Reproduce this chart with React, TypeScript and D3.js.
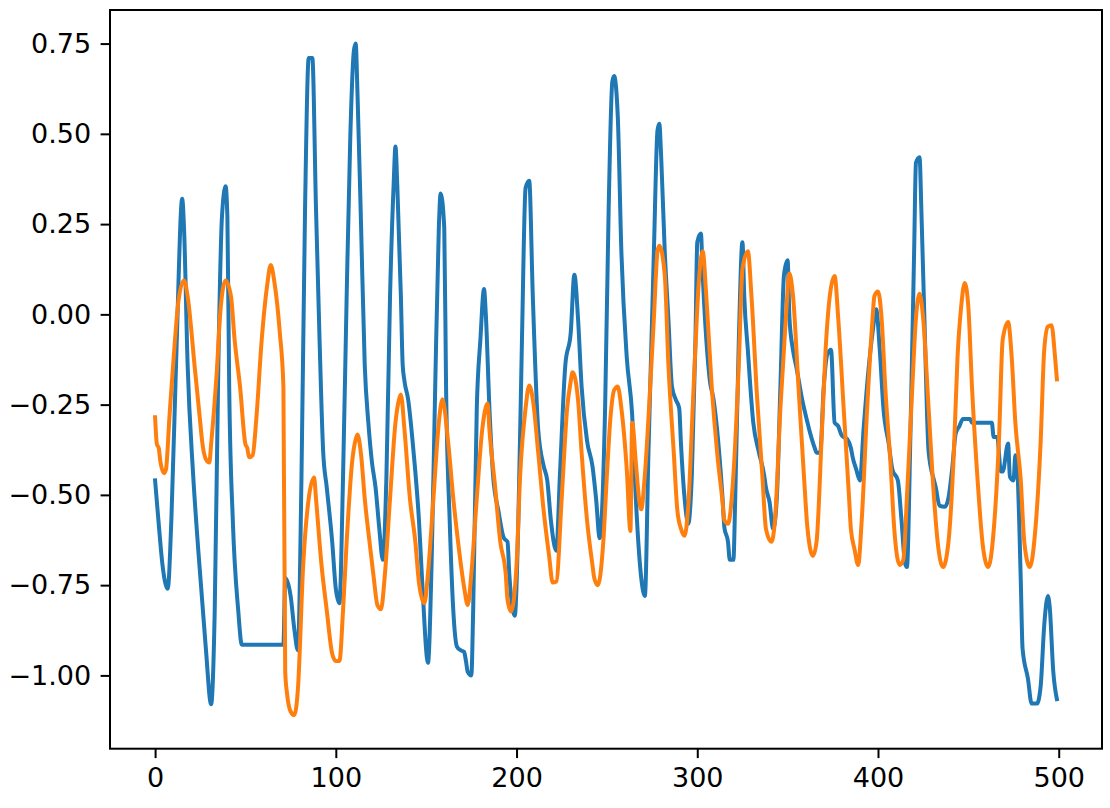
import React, { useEffect, useRef } from 'react';
import * as d3 from 'd3';

// sample index / value pairs (peaks, troughs, shoulders)
const blueIdx = [0, 2, 4, 7, 9, 12, 15, 16, 18, 21, 24, 28, 31, 33, 35, 37, 39, 40, 41, 43, 46, 48, 71, 72, 75, 77, 79, 81, 83, 85, 87, 89, 91, 93, 95, 98, 100, 102, 104, 106, 108, 110, 111, 112, 114, 116, 118, 120, 122, 124, 126, 128, 130, 132, 133, 134, 136, 137, 138, 140, 143, 146, 148, 151, 153, 155, 157, 158, 160, 161, 163, 165, 167, 169, 171, 172, 173, 175, 176, 178, 180, 182, 183, 185, 187, 190, 193, 195, 196, 198, 199, 201, 203, 205, 207, 209, 212, 215, 217, 219, 222, 224, 227, 230, 232, 234, 236, 239, 242, 244, 246, 249, 251, 253, 254, 256, 258, 261, 264, 266, 269, 271, 273, 276, 278, 279, 280, 282, 284, 286, 288, 290, 291, 293, 295, 297, 299, 300, 302, 303, 305, 307, 309, 311, 314, 315, 317, 318, 320, 321, 323, 325, 326, 328, 331, 334, 337, 338, 340, 342, 344, 346, 348, 350, 351, 353, 355, 358, 361, 362, 365, 366, 368, 370, 372, 374, 376, 378, 380, 383, 385, 386, 388, 390, 392, 395, 397, 399, 401, 403, 406, 408, 411, 413, 415, 416, 418, 420, 421, 423, 424, 426, 428, 431, 432, 434, 437, 439, 441, 443, 445, 447, 451, 452, 463, 464, 466, 468, 469, 472, 473, 475, 476, 477, 479, 480, 483, 485, 488, 490, 492, 494, 495, 497, 499]
const blueVal = [-0.46, -0.58, -0.69, -0.76, -0.57, -0.07, 0.32, 0.24, -0.14, -0.44, -0.66, -0.92, -1.08, -0.82, -0.14, 0.27, 0.355, 0.27, -0.2, -0.57, -0.82, -0.915, -0.915, -0.73, -0.78, -0.87, -0.93, -0.45, 0.3, 0.71, 0.71, 0.3, -0.07, -0.38, -0.48, -0.63, -0.76, -0.8, -0.45, 0.05, 0.49, 0.73, 0.75, 0.61, 0.24, -0.14, -0.3, -0.41, -0.48, -0.59, -0.68, -0.45, 0.05, 0.36, 0.465, 0.36, 0.05, -0.14, -0.185, -0.235, -0.38, -0.57, -0.76, -0.965, -0.69, -0.2, 0.24, 0.335, 0.24, -0.2, -0.57, -0.82, -0.92, -0.93, -0.935, -0.96, -0.99, -1.0, -0.82, -0.26, -0.07, 0.07, 0.0, -0.26, -0.445, -0.545, -0.62, -0.63, -0.72, -0.82, -0.835, -0.57, -0.07, 0.35, 0.37, 0.05, -0.32, -0.42, -0.46, -0.57, -0.655, -0.445, -0.14, -0.05, 0.11, -0.01, -0.2, -0.35, -0.42, -0.51, -0.62, -0.26, 0.3, 0.645, 0.66, 0.55, 0.175, -0.12, -0.28, -0.51, -0.73, -0.78, -0.38, 0.175, 0.51, 0.528, 0.44, 0.175, -0.01, -0.2, -0.235, -0.26, -0.36, -0.51, -0.58, -0.445, -0.07, 0.2, 0.224, 0.11, -0.07, -0.185, -0.235, -0.32, -0.51, -0.59, -0.63, -0.68, -0.68, -0.51, -0.07, 0.2, 0.05, -0.1, -0.3, -0.38, -0.445, -0.48, -0.52, -0.595, -0.51, -0.2, 0.11, 0.15, -0.01, -0.1, -0.15, -0.235, -0.3, -0.32, -0.37, -0.383, -0.383, -0.2, -0.11, -0.098, -0.3, -0.31, -0.336, -0.346, -0.37, -0.396, -0.43, -0.46, -0.32, -0.14, -0.05, 0.014, -0.1, -0.26, -0.36, -0.43, -0.46, -0.57, -0.69, -0.7, -0.32, 0.175, 0.42, 0.435, 0.29, -0.07, -0.38, -0.46, -0.48, -0.53, -0.533, -0.508, -0.43, -0.33, -0.31, -0.29, -0.29, -0.3, -0.3, -0.34, -0.34, -0.435, -0.435, -0.358, -0.45, -0.46, -0.39, -0.42, -0.735, -0.926, -1.01, -1.078, -1.078, -1.03, -0.86, -0.78, -0.81, -0.99, -1.066]

const orangeIdx = [0, 1, 2, 3, 5, 6, 8, 11, 13, 16, 18, 22, 25, 26, 28, 30, 31, 34, 36, 39, 42, 44, 47, 50, 51, 52, 54, 56, 59, 62, 64, 66, 69, 71, 72, 73, 75, 77, 79, 82, 85, 88, 89, 92, 95, 98, 100, 102, 104, 106, 109, 111, 112, 114, 116, 119, 121, 123, 125, 127, 130, 133, 135, 136, 138, 141, 144, 146, 149, 151, 154, 157, 159, 162, 165, 168, 171, 173, 175, 178, 181, 184, 185, 188, 191, 194, 195, 197, 200, 202, 205, 207, 209, 212, 215, 218, 220, 222, 225, 228, 230, 231, 234, 236, 239, 242, 243, 245, 248, 250, 252, 254, 256, 258, 261, 263, 264, 266, 268, 269, 271, 274, 276, 278, 279, 282, 284, 287, 289, 291, 293, 295, 298, 301, 303, 305, 308, 311, 314, 315, 317, 320, 323, 325, 328, 330, 333, 336, 338, 341, 343, 346, 349, 351, 353, 356, 359, 361, 364, 366, 369, 371, 374, 376, 378, 381, 384, 385, 387, 389, 391, 394, 397, 398, 400, 402, 404, 407, 409, 412, 414, 416, 419, 421, 423, 425, 428, 431, 433, 436, 439, 442, 444, 446, 448, 450, 452, 455, 458, 461, 464, 467, 469, 472, 474, 476, 479, 481, 484, 487, 490, 492, 494, 496, 498, 499]
const orangeVal = [-0.285, -0.36, -0.37, -0.41, -0.44, -0.43, -0.28, -0.07, 0.04, 0.094, 0.05, -0.15, -0.3, -0.35, -0.4, -0.41, -0.36, -0.17, 0.0, 0.094, 0.05, -0.07, -0.2, -0.36, -0.37, -0.396, -0.39, -0.29, -0.07, 0.08, 0.137, 0.09, -0.05, -0.2, -0.99, -1.05, -1.1, -1.11, -1.04, -0.69, -0.51, -0.452, -0.508, -0.69, -0.82, -0.94, -0.96, -0.96, -0.82, -0.63, -0.41, -0.346, -0.333, -0.39, -0.51, -0.645, -0.73, -0.805, -0.817, -0.73, -0.51, -0.3, -0.235, -0.222, -0.32, -0.51, -0.63, -0.743, -0.8, -0.718, -0.51, -0.3, -0.235, -0.346, -0.51, -0.645, -0.756, -0.805, -0.718, -0.51, -0.32, -0.247, -0.32, -0.47, -0.63, -0.718, -0.79, -0.823, -0.694, -0.445, -0.26, -0.197, -0.235, -0.383, -0.544, -0.668, -0.743, -0.74, -0.508, -0.26, -0.185, -0.16, -0.235, -0.383, -0.57, -0.694, -0.73, -0.75, -0.63, -0.445, -0.284, -0.21, -0.2, -0.26, -0.43, -0.6, -0.3, -0.41, -0.52, -0.54, -0.445, -0.197, -0.01, 0.175, 0.19, 0.11, -0.136, -0.383, -0.544, -0.594, -0.613, -0.53, -0.2, 0.1, 0.175, 0.05, -0.2, -0.383, -0.52, -0.57, -0.58, -0.445, -0.136, 0.125, 0.175, 0.05, -0.222, -0.445, -0.594, -0.63, -0.57, -0.26, -0.011, 0.113, 0.05, -0.2, -0.445, -0.594, -0.669, -0.63, -0.32, -0.1, 0.075, 0.106, -0.011, -0.26, -0.508, -0.594, -0.65, -0.694, -0.57, -0.26, -0.011, 0.05, 0.063, -0.011, -0.2, -0.42, -0.594, -0.694, -0.68, -0.508, -0.2, -0.011, 0.057, -0.011, -0.26, -0.508, -0.63, -0.7, -0.63, -0.38, -0.12, 0.02, 0.087, 0.02, -0.2, -0.45, -0.64, -0.7, -0.6, -0.34, -0.07, -0.021, -0.12, -0.3, -0.46, -0.633, -0.7, -0.6, -0.353, -0.097, -0.034, -0.03, -0.12, -0.18]

const xTicks = [0, 100, 200, 300, 400, 500]
const yTicks = [-1, -0.75, -0.5, -0.25, 0, 0.25, 0.5, 0.75]

const seriesColors = ['#1f77b4', '#ff7f0e']

const W = 1110
const H = 808
const margin = {top: 10, right: 8, bottom: 59.3, left: 110}
const tick = 9.4
const font = 'DejaVu Sans'

const App = () => {
  const ref = useRef<SVGSVGElement>(null)

  useEffect(() => {
    const svg = d3.select(ref.current)
    svg.selectAll('*').remove()

    const w = W - margin.left - margin.right
    const h = H - margin.top - margin.bottom

    const blue = blueIdx.map((x, i) => [x, blueVal[i]] as [number, number])
    const orange = orangeIdx.map((x, i) => [x, orangeVal[i]] as [number, number])

    // matplotlib style 5% margins
    const xExt = d3.extent([...blueIdx, ...orangeIdx]) as [number, number]
    const yExt = d3.extent([...blueVal, ...orangeVal]) as [number, number]
    const xPad = (xExt[1] - xExt[0]) * 0.05
    const yPad = (yExt[1] - yExt[0]) * 0.05

    const x = d3.scaleLinear().domain([xExt[0] - xPad, xExt[1] + xPad]).range([0, w])
    const y = d3.scaleLinear().domain([yExt[0] - yPad, yExt[1] + yPad]).range([h, 0])

    const g = svg.append('g').attr('transform', `translate(${margin.left},${margin.top})`)

    const line = d3.line<[number, number]>()
      .x(d => x(d[0]))
      .y(d => y(d[1]))
      .curve(d3.curveMonotoneX)

    ;[blue, orange].forEach((data, k) => {
      g.append('path')
        .datum(data)
        .attr('fill', 'none')
        .attr('stroke', seriesColors[k])
        .attr('stroke-width', 4)
        .attr('stroke-linejoin', 'round')
        .attr('stroke-linecap', 'square')
        .attr('d', line)
    })

    // axes
    const xAxis = g.append('g')
      .attr('transform', `translate(0,${h})`)
      .call(d3.axisBottom(x).tickValues(xTicks).tickFormat(d3.format('d')).tickSize(tick).tickPadding(tick).tickSizeOuter(0))
    const yAxis = g.append('g')
      .call(d3.axisLeft(y).tickValues(yTicks).tickFormat(d3.format('.2f')).tickSize(tick).tickPadding(tick).tickSizeOuter(0))

    ;[xAxis, yAxis].forEach(a => {
      a.select('.domain').remove()
      a.selectAll('line').attr('stroke', '#000').attr('stroke-width', 2)
      a.selectAll('text').attr('fill', '#000').style('font-family', font).style('font-size', '27px')
    })

    // frame
    g.append('rect')
      .attr('width', w)
      .attr('height', h)
      .attr('fill', 'none')
      .attr('stroke', '#000')
      .attr('stroke-width', 2)
  }, [])

  return (
    <svg ref={ref} width={W} height={H} style={{position: 'absolute', left: 0, top: 0, background: '#fff'}}></svg>
  )
}

export default App
